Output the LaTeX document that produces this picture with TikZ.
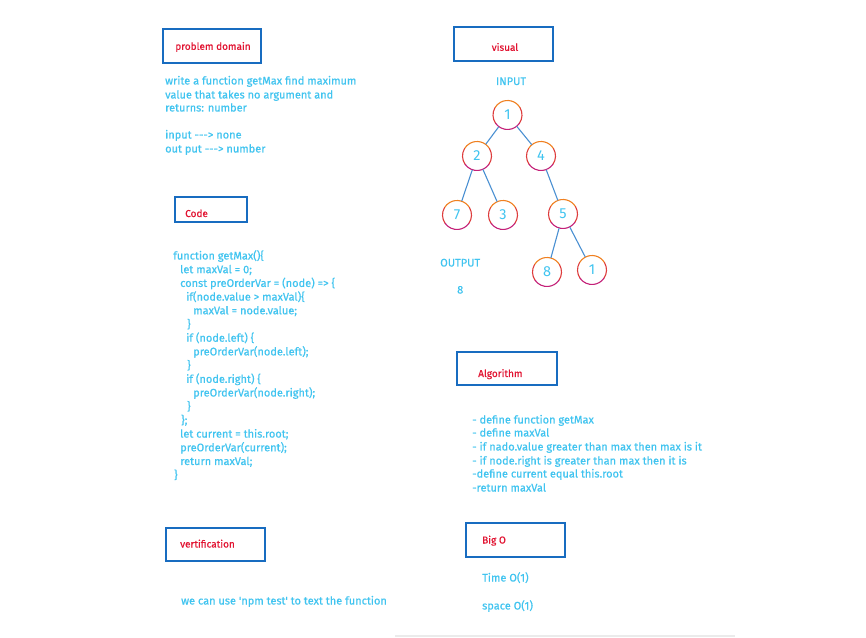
\documentclass[tikz,border=0pt]{standalone}
\usepackage{fontspec}
\setmainfont{Fira Sans}
\newfontfamily\handfont{Fira Sans}[FakeBold=0.5,AutoFakeBold=0.5]
\definecolor{txtc}{RGB}{64,196,240}
\definecolor{ttlc}{RGB}{226,20,50}
\definecolor{bxc}{RGB}{24,108,192}
\definecolor{edgc}{RGB}{74,144,210}
\definecolor{corng}{RGB}{240,128,32}
\definecolor{cred}{RGB}{222,60,60}
\definecolor{cmag}{RGB}{196,32,120}
\begin{document}
\begin{tikzpicture}[x=1pt,y=1pt,
  box/.style={draw=bxc, line width=1.6pt, inner sep=0pt},
  ttl/.style={text=ttlc, font=\handfont\fontsize{10}{12}\selectfont, inner sep=0pt},
  txt/.style={text=txtc, font=\handfont\fontsize{11}{13}\selectfont, inner sep=0pt, anchor=base west},
  tn/.style={circle, minimum size=29pt, inner sep=0pt, text=txtc, font=\fontsize{14.5}{15}\selectfont},
  edge/.style={draw=edgc, line width=1.1pt}]
\useasboundingbox (0,0) rectangle (866,637);
\fill[white] (0,0) rectangle (866,637);
\draw[black!8, line width=2pt] (395,1.5) -- (735,1.5);

% boxes
\node[box, minimum width=98pt, minimum height=34pt] (pdbox) at (212,591) {};
\node[ttl] (pdt) at (213,590) {problem domain};
\node[box, minimum width=72pt, minimum height=25pt] (cbox) at (211,427.5) {};
\node[ttl, anchor=base west] (ct) at (185,420) {Code};
\node[box, minimum width=99pt, minimum height=34pt] (vbox) at (503.5,593) {};
\node[ttl] (vt) at (505,590) {visual};
\node[box, minimum width=100pt, minimum height=33pt] (abox) at (507,268.5) {};
\node[ttl, anchor=base west] (at) at (478,260) {Algorithm};
\node[box, minimum width=99pt, minimum height=33pt] (verbox) at (215.5,92.5) {};
\node[ttl, anchor=base west] (vert) at (180,89.5) {vertification};
\node[box, minimum width=99pt, minimum height=34pt] (bbox) at (515.5,97) {};
\node[ttl, anchor=base west] (bt) at (482,93.5) {Big O};

% problem text
\node[txt] (p1) at (165,552.5) {write a function getMax find maximum};
\node[txt] (p2) at (165,538.5) {value that takes no argument and};
\node[txt] (p3) at (165,525.5) {returns: number};
\node[txt] (p4) at (165,498.5) {input -{}-{}-> none};
\node[txt] (p5) at (165,484.5) {out put -{}-{}-> number};

% code
\node[txt] (c1) at (173,377.5) {function getMax()\{};
\node[txt] (c2) at (180,363.8) {let maxVal = 0;};
\node[txt] (c3) at (180,350.1) {const preOrderVar = (node) => \{};
\node[txt] (c4) at (186,336.4) {if(node.value > maxVal)\{};
\node[txt] (c5) at (193,322.7) {maxVal = node.value;};
\node[txt] (c6) at (187,309.0) {\}};
\node[txt] (c7) at (186,295.3) {if (node.left) \{};
\node[txt] (c8) at (193,281.6) {preOrderVar(node.left);};
\node[txt] (c9) at (187,267.9) {\}};
\node[txt] (c10) at (186,254.2) {if (node.right) \{};
\node[txt] (c11) at (193,240.5) {preOrderVar(node.right);};
\node[txt] (c12) at (187,226.8) {\}};
\node[txt] (c13) at (181,213.1) {\};};
\node[txt] (c14) at (180,199.4) {let current = this.root;};
\node[txt] (c15) at (180,185.7) {preOrderVar(current);};
\node[txt] (c16) at (180,172.0) {return maxVal;};
\node[txt] (c17) at (174,158.3) {\}};

% visual
\node[txt, anchor=base] (inp) at (511,552) {INPUT};
\node[txt] (outp) at (440,370.5) {OUTPUT};
\node[txt] (outv) at (457,343.5) {8};

\node[tn] (n1) at (507.5,522) {1};
\node[tn] (n2) at (477,481) {2};
\node[tn] (n4) at (541,481) {4};
\node[tn] (n7) at (457,422) {7};
\node[tn] (n3) at (503,422) {3};
\node[tn] (n5) at (563,423) {5};
\node[tn] (n8) at (547,365) {8};
\node[tn] (n1b) at (592,367) {1};
\foreach \n in {n1,n2,n4,n7,n3,n5,n8,n1b}{
  \draw[corng, line width=1.1pt, line cap=round] (\n.center) ++(30:14.5) arc[start angle=30, end angle=150, radius=14.5];
  \draw[cred, line width=1.1pt, line cap=round] (\n.center) ++(150:14.5) arc[start angle=150, end angle=215, radius=14.5];
  \draw[cred, line width=1.1pt, line cap=round] (\n.center) ++(-35:14.5) arc[start angle=-35, end angle=30, radius=14.5];
  \draw[cmag, line width=1.1pt, line cap=round] (\n.center) ++(215:14.5) arc[start angle=215, end angle=325, radius=14.5];
}
\draw[edge] (n1) -- (n2);
\draw[edge] (n1) -- (n4);
\draw[edge] (n2) -- (n7);
\draw[edge] (n2) -- (n3);
\draw[edge] (n4) -- (n5);
\draw[edge] (n5) -- (n8);
\draw[edge] (n5) -- (n1b);

% algorithm
\node[txt] (a1) at (472,213.5) {- define function getMax};
\node[txt] (a2) at (472,200.5) {- define maxVal};
\node[txt] (a3) at (472,186.5) {- if nado.value greater than max then max is it};
\node[txt] (a4) at (472,172.5) {- if node.right is greater than max then it is};
\node[txt] (a5) at (472,159.5) {-define current equal this.root};
\node[txt] (a6) at (472,145.5) {-return maxVal};

% verification, big O
\node[txt] (ver) at (181,32.5) {we can use 'npm test' to text the function};
\node[txt] (tm) at (482,55.5) {Time O(1)};
\node[txt] (sp) at (482,27.5) {space O(1)};
\end{tikzpicture}
\end{document}
